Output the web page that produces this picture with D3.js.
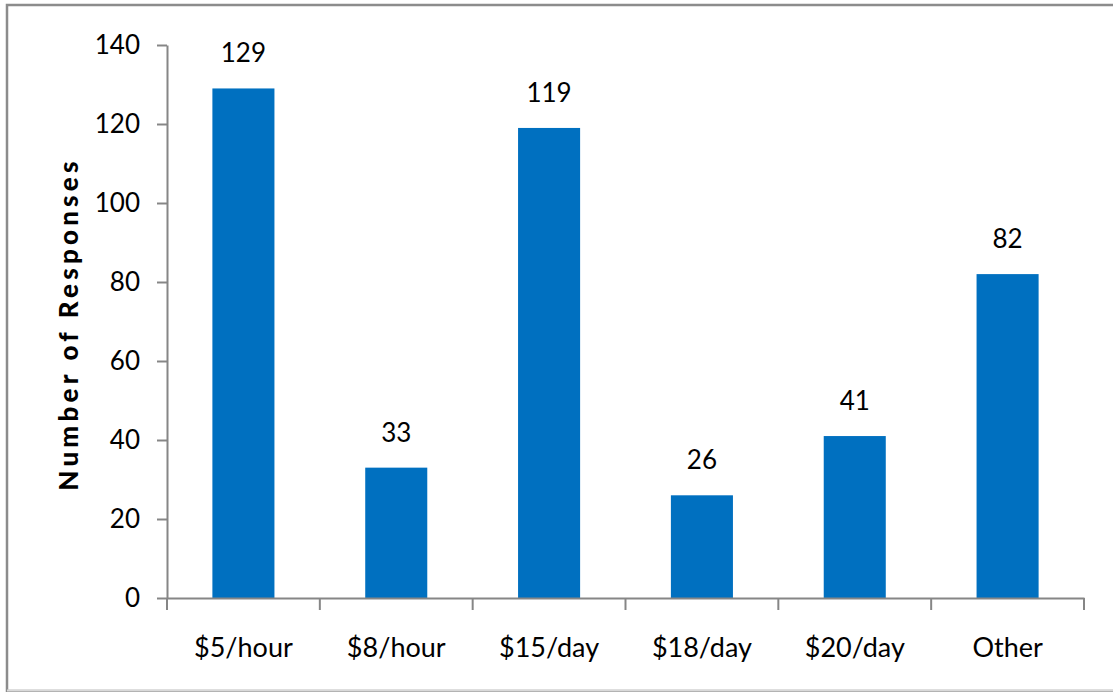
<!DOCTYPE html>
<html>
<head>
<meta charset="utf-8">
<script src="https://cdn.jsdelivr.net/npm/d3@7"></script>
<style>
html,body{margin:0;padding:0;background:#fff;}
svg{display:block;}
</style>
</head>
<body>
<svg id="chart" width="1113" height="692"></svg>
<script>
const categories = ["$5/hour", "$8/hour", "$15/day", "$18/day", "$20/day", "Other"];
const values = [129, 33, 119, 26, 41, 82];
const yTicks = [0, 20, 40, 60, 80, 100, 120, 140];
const yTitle = "Number of Responses";

(function () {
const svg = d3.select("#chart");
const font = "Lato, 'Open Sans', sans-serif";

// outer frame
svg.append("rect").attr("x", 7).attr("y", 5).attr("width", 1200).attr("height", 686)
  .attr("fill", "none").attr("stroke", "#8c8c8c").attr("stroke-width", 2.5);
svg.append("line").attr("x1", 7).attr("x2", 1113).attr("y1", 690.5).attr("y2", 690.5)
  .attr("stroke", "#d9d9d9").attr("stroke-width", 2);

const mLeft = 167, mRight = 1084, mTop = 45, mBottom = 598;

const x = d3.scaleBand().domain(categories).range([mLeft, mRight]).paddingInner(0.594).paddingOuter(0.297);
const y = d3.scaleLinear().domain([0, 140]).range([mBottom, mTop]);

// bars
svg.selectAll("rect.bar").data(values).enter().append("rect")
  .attr("class", "bar")
  .attr("x", (d, i) => x(categories[i]))
  .attr("width", x.bandwidth())
  .attr("y", d => y(d))
  .attr("height", d => y(0) - y(d))
  .attr("fill", "#0070C0");

// value labels
svg.selectAll("text.val").data(values).enter().append("text")
  .attr("class", "val")
  .attr("x", (d, i) => x(categories[i]) + x.bandwidth() / 2)
  .attr("y", d => y(d) - 26)
  .attr("text-anchor", "middle")
  .attr("font-family", font).attr("font-size", 26).attr("fill", "#000")
  .text(d => d);

// y axis
const yAxis = d3.axisLeft(y).tickValues(yTicks).tickSize(10).tickPadding(17).tickSizeOuter(0);
const gy = svg.append("g").attr("transform", `translate(${mLeft},0)`).call(yAxis);
gy.select(".domain").attr("stroke", "#868686").attr("stroke-width", 2);
gy.selectAll(".tick line").attr("stroke", "#868686").attr("stroke-width", 2);
gy.selectAll(".tick text").attr("font-family", font).attr("font-size", 26).attr("fill", "#000");

// x axis
const xAxis = d3.axisBottom(x).tickSize(0).tickPadding(40).tickSizeOuter(0);
const gx = svg.append("g").attr("transform", `translate(0,${mBottom})`).call(xAxis);
gx.select(".domain").attr("stroke", "#868686").attr("stroke-width", 2);
gx.selectAll(".tick text").attr("font-family", font).attr("font-size", 27).attr("fill", "#000");
// category separator ticks
const sepPositions = categories.map(c => x(c) - x.step() * x.paddingInner() / 2).concat([mRight]);
gx.selectAll("line.sep").data(sepPositions).enter().append("line")
  .attr("class", "sep")
  .attr("x1", d => d).attr("x2", d => d)
  .attr("y1", 0).attr("y2", 12)
  .attr("stroke", "#868686").attr("stroke-width", 2);

// y title
svg.append("text")
  .attr("transform", `translate(78,324) rotate(-90)`)
  .attr("text-anchor", "middle")
  .attr("font-family", font).attr("font-size", 26).attr("font-weight", "900")
  .attr("letter-spacing", 4.2).attr("fill", "#000")
  .text(yTitle);
})();
</script>
</body>
</html>
